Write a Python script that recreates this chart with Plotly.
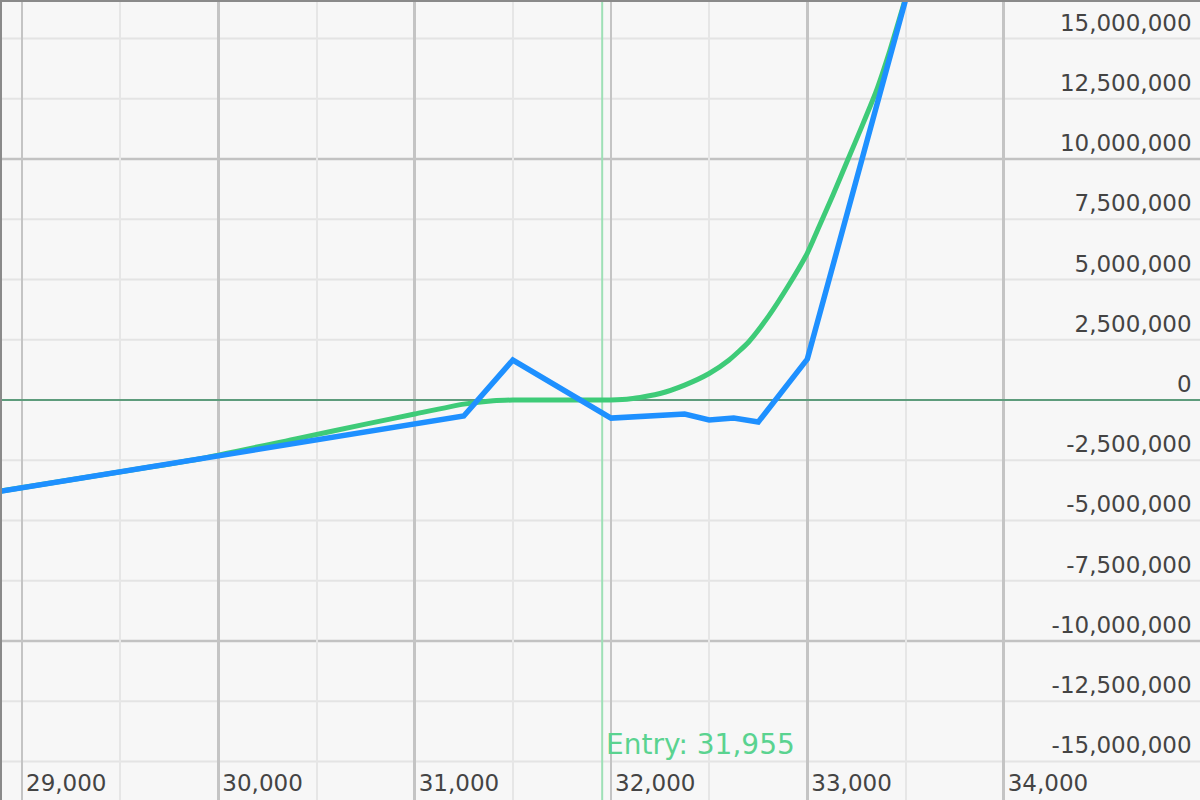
import plotly.graph_objects as go

# ---- data ----
blue_x = [28500, 31250, 31500, 32000, 32375, 32500, 32625, 32750, 33000, 33500]
blue_y = [-4.30e6, -0.66e6, 1.66e6, -0.75e6, -0.58e6, -0.83e6, -0.75e6, -0.91e6, 1.70e6, 16.6e6]

green_x = [28800, 29400, 29900, 30400, 30750, 31000, 31250, 31400, 31500, 31750, 32000,
           32100, 32250, 32375, 32500, 32600, 32700, 32800, 32900, 33000, 33060, 33130,
           33205, 33280, 33350, 33420, 33490, 33560]
green_y = [-3.90e6, -3.11e6, -2.45e6, -1.60e6, -1.00e6, -0.58e6, -0.17e6, -0.03e6, 0.0, 0.0, 0.0,
           0.05e6, 0.27e6, 0.62e6, 1.10e6, 1.65e6, 2.40e6, 3.45e6, 4.70e6, 6.10e6, 7.20e6, 8.50e6,
           9.95e6, 11.4e6, 12.8e6, 14.5e6, 16.4e6, 18.4e6]

entry_price = 31955
entry_label = "Entry: 31,955"

x_range = [28898, 35000]
y_range = [-16.6e6, 16.52e6]
x_ticks = [29000, 30000, 31000, 32000, 33000, 34000, 35000]
x_minor = 500
y_ticks = [-15e6, -12.5e6, -10e6, -7.5e6, -5e6, -2.5e6, 0, 2.5e6, 5e6, 7.5e6, 10e6, 12.5e6, 15e6]
y_major_step = 10e6

FONT = "DejaVu Sans"


def fmt(v):
    s = f"{abs(int(round(v))):,}"
    return "-" + s if v < 0 else s


fig = go.Figure()
fig.add_trace(go.Scatter(x=green_x, y=green_y, mode="lines",
                         line=dict(color="#3ecb78", width=5, shape="spline", smoothing=0.5),
                         hoverinfo="skip"))
fig.add_trace(go.Scatter(x=blue_x, y=blue_y, mode="lines",
                         line=dict(color="#1e90ff", width=5.5), hoverinfo="skip"))

# horizontal grid: light every tick, darker at multiples of 10M
for v in y_ticks:
    if v == 0:
        continue
    major = (v % y_major_step) == 0
    fig.add_shape(type="line", xref="paper", x0=0, x1=1, yref="y", y0=v, y1=v,
                  line=dict(color="#c2c2c2" if major else "#e4e4e4",
                            width=2.5 if major else 2),
                  layer="below")

fig.add_shape(type="line", xref="x", x0=entry_price, x1=entry_price, yref="paper", y0=0, y1=1,
              line=dict(color="#9ee0b6", width=2), layer="below")

fig.add_annotation(x=entry_price, xref="x", xanchor="left", xshift=2,
                   y=0.07, yref="paper", yanchor="middle",
                   text=entry_label, showarrow=False,
                   font=dict(family=FONT, size=28, color="#5ad390"))

fig.update_layout(
    width=1200, height=800,
    margin=dict(l=0, r=0, t=0, b=0, pad=0),
    paper_bgcolor="#f7f7f7", plot_bgcolor="#f7f7f7",
    showlegend=False,
    font=dict(family=FONT, size=23, color="#6a6a6a"),
)
fig.update_xaxes(
    range=x_range, tickvals=x_ticks, ticktext=[fmt(v) for v in x_ticks],
    showgrid=True, gridcolor="#c4c4c4", gridwidth=2.5,
    minor=dict(dtick=x_minor, tick0=0, showgrid=True, gridcolor="#e6e6e6", gridwidth=2),
    ticklabelposition="inside right", ticks="", ticklabelstandoff=3, ticklabelshift=3,
    showline=True, mirror=True, linecolor="#8a8a8a", linewidth=2,
    zeroline=False, fixedrange=True,
)
fig.update_yaxes(
    range=y_range, tickvals=y_ticks, ticktext=[fmt(v) for v in y_ticks], side="right",
    showgrid=False,
    ticklabelposition="inside top", ticks="", ticklabelstandoff=9,
    showline=True, mirror=True, linecolor="#8a8a8a", linewidth=2,
    zeroline=True, zerolinecolor="#5e9c7c", zerolinewidth=2.5, fixedrange=True,
)

fig.write_html(
    "out.html",
    config={"displayModeBar": False, "staticPlot": True},
    post_script="document.body.style.margin='0';document.body.style.padding='0';"
                "document.body.style.overflow='hidden';",
)
